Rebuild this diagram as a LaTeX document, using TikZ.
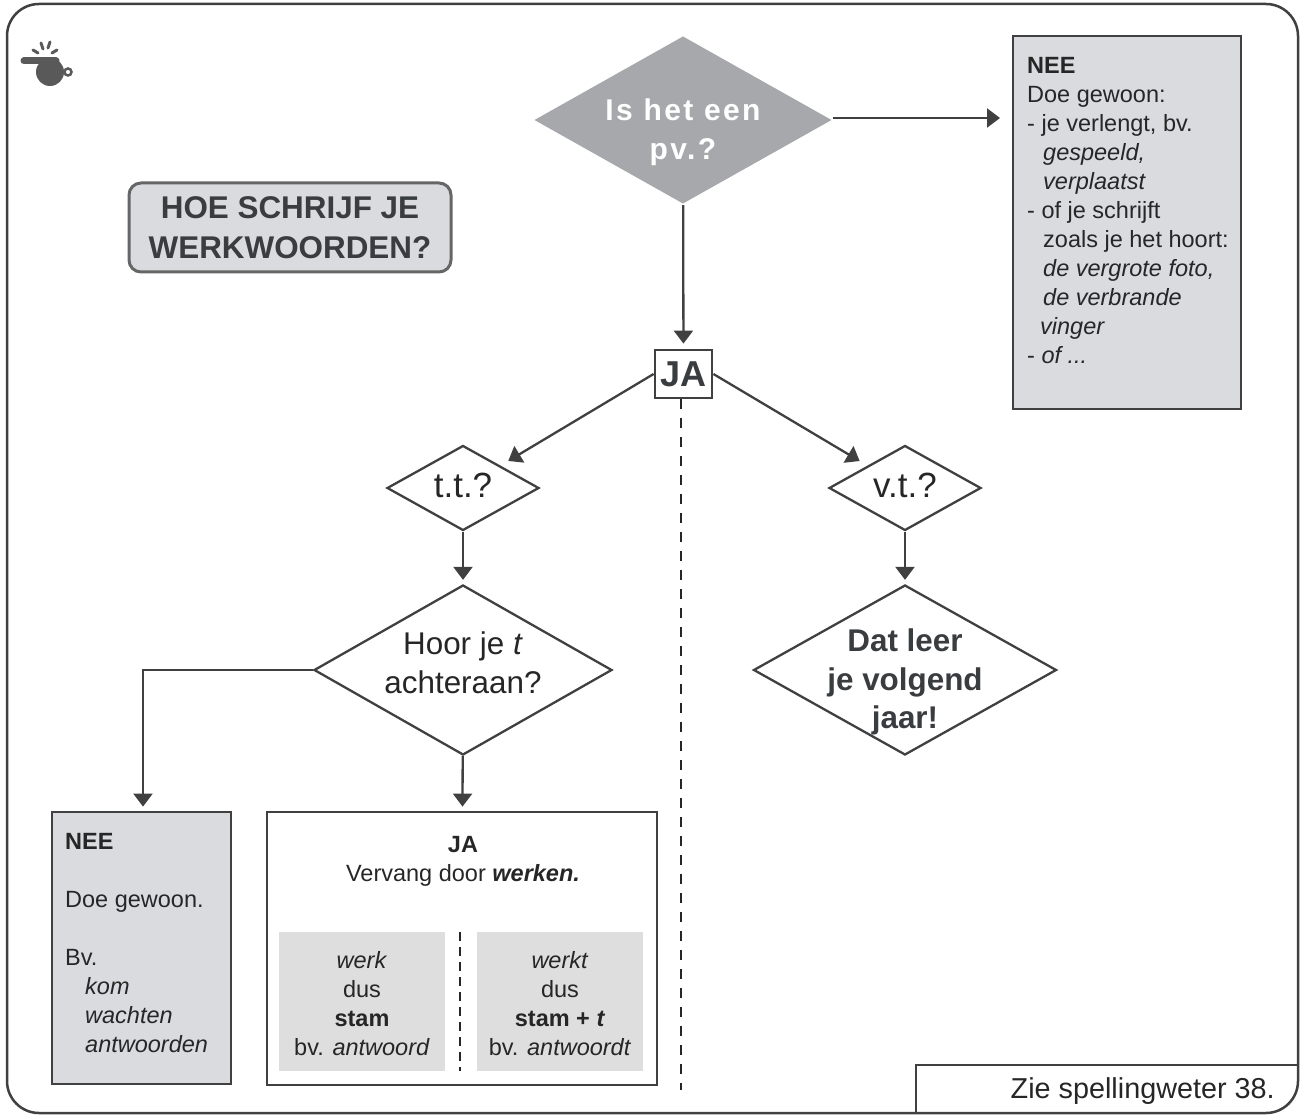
\documentclass[tikz,border=0pt]{standalone}
\usepackage{fontspec}
\usepackage{xcolor}
\setmainfont{Liberation Sans}
\usetikzlibrary{calc, positioning, shapes.geometric, arrows.meta}

\definecolor{lineGrey}{HTML}{404040}
\definecolor{boxGrey}{HTML}{D9DBDF}
\definecolor{softGrey}{HTML}{DEDEDE}
\definecolor{darkGrey}{HTML}{A6A8AB}
\definecolor{inkGrey}{HTML}{3A3D40}

\begin{document}
\begin{tikzpicture}[x=1pt, y=-1pt]

\tikzstyle{arrow} = [-{Triangle[length=13pt,width=19pt]}, lineGrey, line width=2.3pt, shorten >=4pt];
\tikzstyle{line} = [lineGrey, line width=2.3pt];
\tikzstyle{ruler} = [black!85, line width=2.2pt, dash pattern=on 10pt off 9pt];
\tikzstyle{keuze} = [draw=lineGrey, line width=2.3pt, diamond, inner sep=0pt];
\tikzstyle{kader} = [draw=lineGrey, line width=2.8pt, rectangle, inner sep=0pt];
\tikzstyle{body} = [inner sep=0pt, text=black!85, font=\fontsize{23.5}{29}\selectfont];
\tikzstyle{big} = [inner sep=0pt, align=center, text=black!85, font=\fontsize{31.4}{39}\selectfont];
\tikzstyle{bigbold} = [inner sep=0pt, align=center, text=inkGrey, font=\bfseries\fontsize{31.4}{38.5}\selectfont];

\useasboundingbox (0,0) rectangle (1304,1115);

\draw [line, line width=2.5pt, rounded corners=32pt] (7,4) rectangle (1298,1113);

\fill [black!65] (50,72) circle (14);
\draw [black!65, line width=7pt, line cap=round] (24,61) -- (56,61);
\draw [black!65, line width=2.5pt] (68,72) circle (3.5);
\draw [black!65, line width=3pt, line cap=round] (33,50) -- (38,53);
\draw [black!65, line width=3pt, line cap=round] (41,43) -- (43,49);
\draw [black!65, line width=3pt, line cap=round] (57,50) -- (52,53);
\draw [black!65, line width=3pt, line cap=round] (50,42) -- (48,48);

\node(titel) [draw=black!60, fill=boxGrey, line width=3pt, rounded corners=12pt, minimum width=322pt, minimum height=89pt, inner sep=0pt, align=center, text=inkGrey, font=\bfseries\fontsize{31.4}{40}\selectfont] at (290,227.5) {HOE SCHRIJF JE\\WERKWOORDEN?};

\node(pv) [keuze, draw=none, fill=darkGrey, minimum width=298pt, minimum height=168pt] at (683,120) {};
\node(pvText) [inner sep=0pt, align=center, text=white, font=\bfseries\fontsize{30}{39}\selectfont\addfontfeature{LetterSpace=8}] at (683,132) {Is het een\\pv.?};

\node(neeR) [kader, fill=boxGrey, minimum width=228pt, minimum height=373pt] at (1127,222.5) {};
\node(neeRText) [body, anchor=north west, align=left] at (1027,57) {\textbf{NEE}\\Doe gewoon:\\- je verlengt, bv.\\\hspace*{16pt}\textit{gespeeld,}\\\hspace*{16pt}\textit{verplaatst}\\- of je schrijft\\\hspace*{16pt}zoals je het hoort:\\\hspace*{16pt}\textit{de vergrote foto,}\\\hspace*{16pt}\textit{de verbrande}\\\hspace*{13pt}\textit{vinger}\\- \textit{of ...}};

\node(ja) [kader, minimum width=57pt, minimum height=48pt, font=\bfseries\fontsize{36}{36}\selectfont, text=inkGrey] at (683.5,374) {JA};

\node(tt) [keuze, minimum width=152pt, minimum height=85pt] at (463,488) {};
\node(ttText) [big, font=\fontsize{35}{39}\selectfont] at (463,485) {t.t.?};
\node(vt) [keuze, minimum width=152pt, minimum height=85pt] at (905,488) {};
\node(vtText) [big, font=\fontsize{35}{39}\selectfont] at (905,485) {v.t.?};

\node(hoor) [keuze, minimum width=298pt, minimum height=170pt] at (463,670) {};
\node(hoorText) [big] at (463,663) {Hoor je \textit{t}\\achteraan?};

\node(dat) [keuze, minimum width=303pt, minimum height=170pt] at (905,670) {};
\node(datText) [bigbold] at (905,682) {Dat leer\\je volgend\\jaar!};

\node(neeL) [kader, fill=boxGrey, minimum width=179pt, minimum height=272pt] at (141.5,948) {};
\node(neeLText) [body, anchor=north west, align=left] at (65,833) {\textbf{NEE}\\[29pt]Doe gewoon.\\[29pt]Bv.\\\hspace*{20pt}\textit{kom}\\\hspace*{20pt}\textit{wachten}\\\hspace*{20pt}\textit{antwoorden}};

\node(jaBox) [kader, minimum width=390pt, minimum height=273pt] at (462,948.5) {};
\node(jaText) [body, align=center] at (463,861) {\textbf{JA}\\Vervang door \textbf{\textit{werken.}}};

\node(stam) [fill=softGrey, minimum width=166pt, minimum height=139pt, inner sep=0pt, body] at (362,1001.5) {};
\node(stamText) [body, align=center] at (362,1003.5) {\textit{werk}\\dus\\\textbf{stam}\\bv. \textit{antwoord}};
\node(stamT) [fill=softGrey, minimum width=166pt, minimum height=139pt, inner sep=0pt, body] at (560,1001.5) {};
\node(stamTText) [body, align=center] at (560,1003.5) {\textit{werkt}\\dus\\\textbf{stam + \textit{t}}\\bv. \textit{antwoordt}};

\coordinate(stamTop) at (460,932);
\coordinate(stamBot) at (460,1071);
\coordinate(midEnd) at (681,1090);
\coordinate(pvEnd) at (1004,118);
\coordinate(pvStart) at (pv.east |- pvEnd);
\coordinate(zieLeft) at (916,1113);
\coordinate(zieRight) at (1298,1065);

\node(zie) [inner sep=0pt, anchor=east, text=black!85, font=\fontsize{28.8}{34}\selectfont] at (1275,1091) {Zie spellingweter 38.};

\draw [arrow] (pvStart) -- (pvEnd);
\draw [arrow, shorten >=5pt] (pv) -- (ja);
\draw [arrow, shorten >=9pt] (ja.west) -- (tt);
\draw [arrow, shorten >=9pt] (ja.east) -- (vt);
\draw [arrow] (tt) -- (hoor);
\draw [arrow] (vt) -- (dat);
\draw [arrow] (hoor.west) -| ([xshift=1.5pt]neeL.north);
\draw [arrow] (hoor) -- (jaBox);

\draw [ruler] (ja.south -| midEnd) -- (midEnd);
\draw [ruler, dash pattern=on 9pt off 6pt] (stamTop) -- (stamBot);
\draw [line] (zieLeft) |- (zieRight);

\end{tikzpicture}
\end{document}
